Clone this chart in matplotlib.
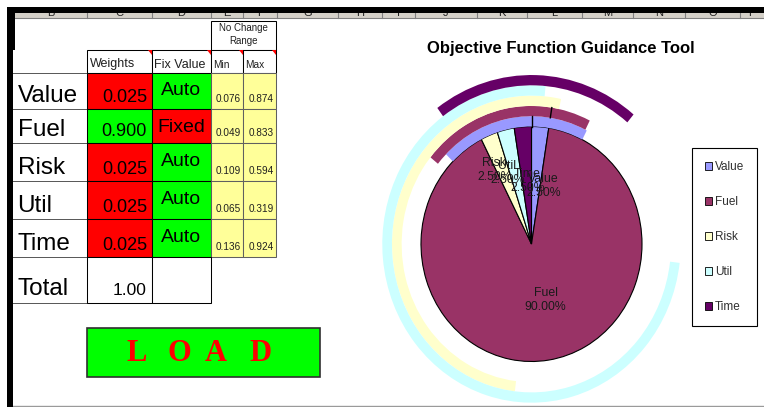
import matplotlib
matplotlib.use("Agg")
import matplotlib.pyplot as plt
from matplotlib.patches import Rectangle, Wedge, Polygon, Patch
import numpy as np

plt.rcParams['font.family'] = ['Liberation Sans', 'DejaVu Sans']

# ---- data -------------------------------------------------------------
categories = ["Value", "Fuel", "Risk", "Util", "Time"]
weights = [0.025, 0.900, 0.025, 0.025, 0.025]
fix_value = ["Auto", "Fixed", "Auto", "Auto", "Auto"]
range_min = [0.076, 0.049, 0.109, 0.065, 0.136]
range_max = [0.874, 0.833, 0.594, 0.319, 0.924]
column_letters = ["B", "C", "D", "E", "F", "G", "H", "I", "J", "K", "L", "M", "N", "O", "P"]
button_letters = ["L", "O", "A", "D"]

# ---- styling ----------------------------------------------------------
series_colors = ['#9999ff', '#993366', '#ffffcc', '#ccffff', '#660066']
RED, GREEN, YELLOW = '#ff0000', '#00ff00', '#ffff99'
W, H = 764, 407

fig = plt.figure(figsize=(W / 100, H / 100), dpi=100)
fig.patch.set_facecolor('white')

# worksheet layer in pixel units (y grows downward)
sheet = fig.add_axes([0, 0, 1, 1])
sheet.set_xlim(0, W)
sheet.set_ylim(H, 0)
sheet.axis('off')


def box(x0, x1, y0, y1, fc, ec='black', lw=0.75, z=2):
    sheet.add_patch(Rectangle((x0, y0), x1 - x0, y1 - y0, facecolor=fc,
                              edgecolor=ec, linewidth=lw, zorder=z))


# window frame and column header strip
grid_x = [15, 87, 152, 211, 243, 277, 338, 382, 415, 477, 527, 582, 633, 685, 740, 764]
box(15, W + 2, 13.3, 18.3, '#d4d0c8', ec='none', z=1)
sheet.plot([15, W], [18.3, 18.3], color='#808080', lw=0.8, zorder=1.5)
for gx in grid_x[1:-1]:
    sheet.plot([gx, gx], [13.3, 18.3], color='#808080', lw=0.8, zorder=1.5)
for i, letter in enumerate(column_letters):
    sheet.text((grid_x[i] + grid_x[i + 1]) / 2, 15.8, letter, ha='center',
               va='baseline', fontsize=8, color='#202020', zorder=1.6)
box(6.7, W + 2, 6.7, 13.3, 'black', ec='none', z=6)
box(6.7, 13.3, 6.7, H + 2, 'black', ec='none', z=6)
box(13.3, 15.3, 13.3, 50, 'black', ec='none', z=6)
sheet.plot([13.3, W], [405.8, 405.8], color='#9a9a9a', lw=1.0, zorder=1)

# ---- weights table ----------------------------------------------------
col_edges = [13.3, 87, 152, 211, 243, 276]
row_edges = [72.5, 109.3, 143.3, 181, 219, 257.3, 302.7]
header_top = 50.0

# "No Change Range" caption box
box(211, 276, 20.7, header_top, 'white')
sheet.text(243.5, 30.7, "No Change", ha='center', va='baseline', fontsize=7, color='#202020')
sheet.text(243.5, 44.3, "Range", ha='center', va='baseline', fontsize=7, color='#202020')

# header cells
for j in range(1, 5):
    box(col_edges[j], col_edges[j + 1], header_top, row_edges[0], 'white')
headers = ["Weights", "Fix Value", "Min", "Max"]
header_sizes = [9, 9, 7.3, 7.3]
for j, (txt, fs) in enumerate(zip(headers, header_sizes)):
    sheet.text(col_edges[j + 1] + 2.5, 67.5, txt, ha='left', va='baseline',
               fontsize=fs, color='#202020', zorder=4)
    xr = col_edges[j + 2]
    sheet.add_patch(Polygon([[xr - 4.5, header_top], [xr, header_top], [xr, header_top + 4.5]],
                            closed=True, facecolor=RED, edgecolor='none', zorder=5))

# label column rules
for y in row_edges:
    sheet.plot([col_edges[0], col_edges[1]], [y, y], color='#555555', lw=0.7, zorder=2)

for i, cat in enumerate(categories):
    y0, y1 = row_edges[i], row_edges[i + 1]
    fixed = fix_value[i] == "Fixed"
    box(col_edges[1], col_edges[2], y0, y1, GREEN if fixed else RED)
    box(col_edges[2], col_edges[3], y0, y1, RED if fixed else GREEN)
    box(col_edges[3], col_edges[4], y0, y1, YELLOW, ec='#606060')
    box(col_edges[4], col_edges[5], y0, y1, YELLOW, ec='#606060')
    sheet.text(17.5, y1 - 7.5, cat, ha='left', va='baseline', fontsize=17.5, color='black', zorder=4)
    sheet.text(147, y1 - 7.5, f"{weights[i]:.3f}", ha='right', va='baseline',
               fontsize=13, color='black', zorder=4)
    sheet.text(181, y0 + 22.5, fix_value[i], ha='center', va='baseline',
               fontsize=14, color='black', zorder=4)
    sheet.text(240.5, y1 - 7, f"{range_min[i]:.3f}", ha='right', va='baseline',
               fontsize=7.2, color='#202020', zorder=4)
    sheet.text(274, y1 - 7, f"{range_max[i]:.3f}", ha='right', va='baseline',
               fontsize=7.2, color='#202020', zorder=4)

# total row
y0, y1 = row_edges[-2], row_edges[-1]
box(col_edges[1], col_edges[2], y0, y1, 'white')
box(col_edges[2], col_edges[3], y0, y1, 'white')
sheet.text(17.5, y1 - 7.7, "Total", ha='left', va='baseline', fontsize=17.5, color='black', zorder=4)
sheet.text(147, y1 - 7.7, f"{sum(weights):.2f}", ha='right', va='baseline',
           fontsize=12.5, color='black', zorder=4)

# LOAD button
box(86.7, 320, 328.3, 376.7, GREEN, ec='#303030', lw=1.2)
for letter, cx in zip(button_letters, [136.7, 179.2, 215.8, 260]):
    sheet.text(cx, 360.7, letter, ha='center', va='baseline', fontsize=22,
               fontweight='bold', family='Liberation Serif', color=RED, zorder=4)

# ---- pie chart with no-change rings ----------------------------------
cx_px, cy_px, rx_px, ry_px = 531.5, 244.0, 110.5, 117.5
xlim, ylim = (-1.5, 1.5), (-1.38, 1.5)
left = cx_px + xlim[0] * rx_px
pie_ax = fig.add_axes([left / W, 1 - (cy_px - ylim[0] * ry_px) / H,
                       (xlim[1] - xlim[0]) * rx_px / W, (ylim[1] - ylim[0]) * ry_px / H])
pie_ax.pie(weights, colors=series_colors, startangle=90, counterclock=False,
           wedgeprops=dict(edgecolor='black', linewidth=0.8))
pie_ax.set_aspect('auto')
pie_ax.set_xlim(*xlim)
pie_ax.set_ylim(*ylim)
pie_ax.axis('off')

starts = np.concatenate([[0.0], np.cumsum(weights)[:-1]])
ring_w = 0.0876
for i in range(len(categories)):
    r_in = 1.0 + i * ring_w
    t1 = 90 - 360 * (starts[i] + 1 + range_min[i])
    t2 = 90 - 360 * (starts[i] + range_max[i])
    pie_ax.add_patch(Wedge((0, 0), r_in + ring_w, t1, t2, width=ring_w,
                           facecolor=series_colors[i], edgecolor='none', zorder=1))

# seams where the two inner rings wrap past their slice start
for i in (0, 1):
    a = 2 * np.pi * starts[i]
    r = np.array([1.0 + i * ring_w, 1.0 + (i + 1) * ring_w])
    pie_ax.plot(r * np.sin(a), r * np.cos(a), color='black', lw=1.0, zorder=3)

label_xy = [(0.109, 0.494), (0.127, -0.477), (-0.335, 0.630), (-0.217, 0.604), (-0.036, 0.536)]
for cat, w, (lx, ly) in zip(categories, weights, label_xy):
    pie_ax.text(lx, ly, f"{cat}\n{w * 100:.2f}%", ha='center', va='center',
                fontsize=8.8, color='#1a1a1a', linespacing=1.15, zorder=4)

fig.text(561 / W, 1 - 49 / H, "Objective Function Guidance Tool", ha='center',
         va='center', fontsize=12, fontweight='bold', color='black')

handles = [Patch(facecolor=c, edgecolor='black', linewidth=0.6) for c in series_colors]
leg = fig.legend(handles, categories, loc='upper left',
                 bbox_to_anchor=(692 / W, 1 - 148 / H), borderaxespad=0,
                 frameon=True, fancybox=False, framealpha=1, edgecolor='black',
                 fontsize=8.5, labelcolor='#303030', handlelength=0.6,
                 handleheight=0.6, handletextpad=0.25, labelspacing=1.95,
                 borderpad=1.1)
leg.get_frame().set_linewidth(0.8)

fig.savefig("out.png", dpi=100, facecolor='white')
